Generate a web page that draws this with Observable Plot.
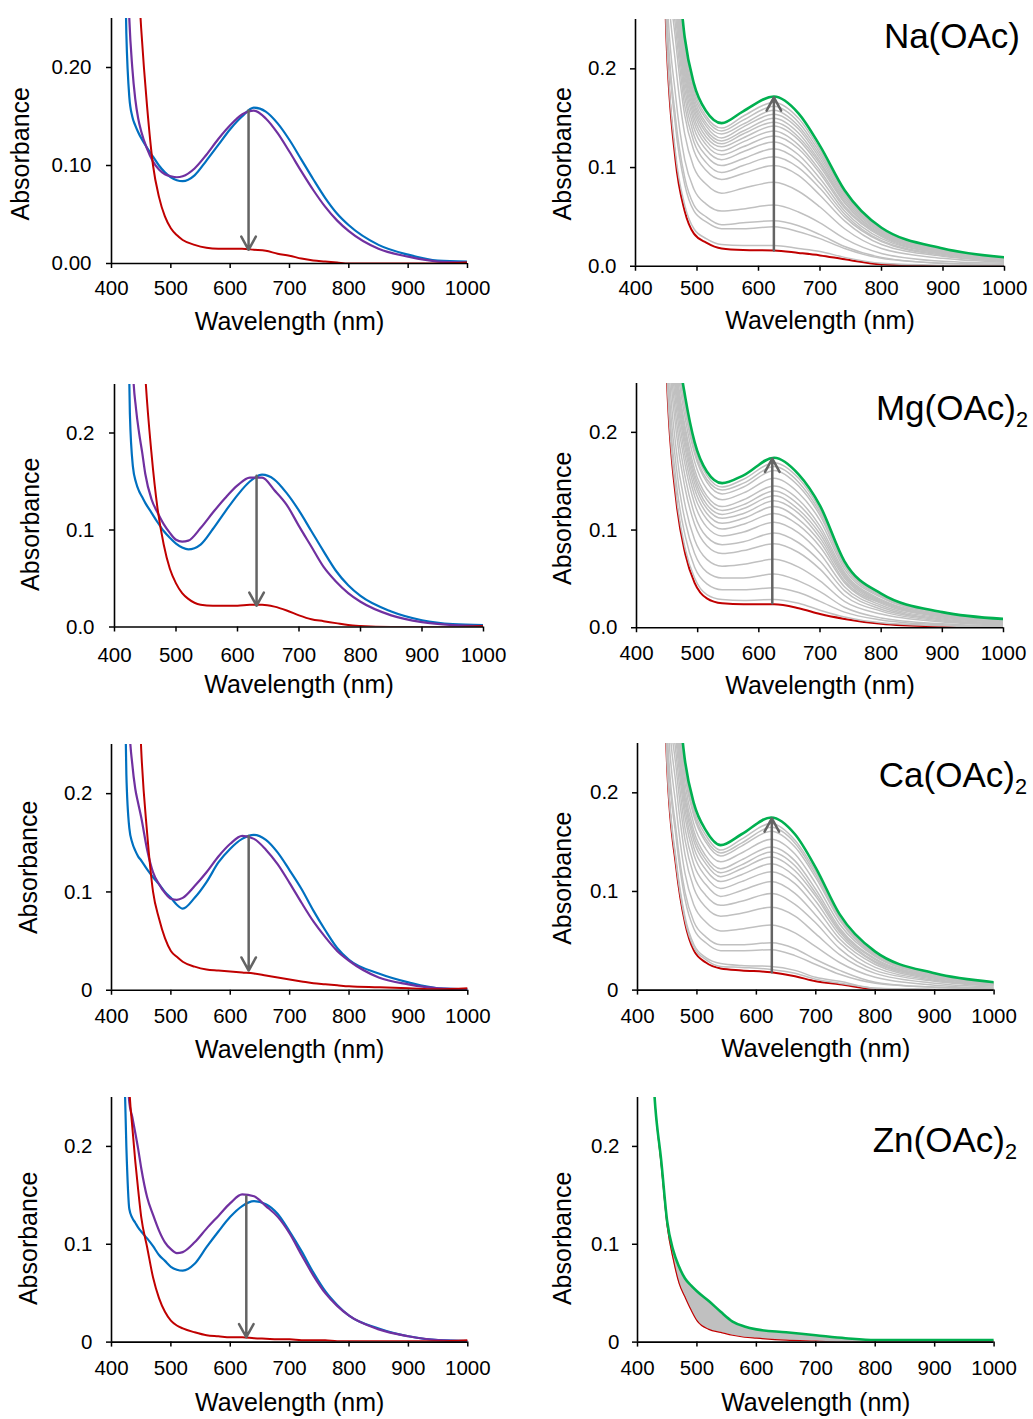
<!DOCTYPE html>
<html><head><meta charset="utf-8">
<script src="https://cdn.jsdelivr.net/npm/d3@7"></script>
<script src="https://cdn.jsdelivr.net/npm/@observablehq/plot@0.6"></script>
<style>
body{margin:0;background:#fff;}
#fig{position:relative;width:1033px;height:1419px;overflow:hidden;background:#fff;font-family:"Liberation Sans",Arial,sans-serif;}
.title{position:absolute;font-size:35px;line-height:35px;white-space:nowrap;color:#000;}
.title sub{font-size:0.62em;vertical-align:-0.32em;line-height:0;}
</style></head><body><div id="fig"></div>
<script>
// ---------- DATA ----------
const xTicks = [400, 500, 600, 700, 800, 900, 1000];
const yTicks = [0, 0.1, 0.2];

// left column: blue, purple, red spectra
const wlLeft = [420,425,430,435,440,445,450,460,470,480,490,500,510,520,540,560,580,600,620,640,660,680,700,720,740,760,780,800,850,900,950,1000];
const naBlue   = [0.40,0.235,0.17,0.150,0.141,0.134,0.128,0.118,0.109,0.100,0.093,0.088,0.085,0.084,0.090,0.105,0.121,0.137,0.150,0.159,0.155,0.143,0.126,0.106,0.086,0.067,0.051,0.039,0.019,0.009,0.003,0.002];
const naPurple = [0.5,0.35,0.25,0.2,0.168,0.148,0.135,0.117,0.104,0.096,0.091,0.089,0.088,0.089,0.097,0.111,0.127,0.141,0.152,0.156,0.148,0.133,0.114,0.094,0.075,0.058,0.044,0.033,0.015,0.007,0.002,0.001];
const naRed    = [1,0.9,0.6,0.45,0.35,0.29,0.24,0.16,0.10,0.068,0.048,0.036,0.029,0.024,0.019,0.016,0.015,0.015,0.015,0.014,0.013,0.010,0.008,0.005,0.003,0.002,0.001,0,0,0,0,0.001];
const mgBlue   = [0.40,0.22,0.165,0.149,0.140,0.134,0.128,0.118,0.108,0.099,0.092,0.086,0.082,0.080,0.085,0.101,0.119,0.136,0.150,0.157,0.152,0.138,0.120,0.099,0.078,0.058,0.043,0.032,0.016,0.007,0.003,0.002];
const mgPurple = [0.6,0.4,0.265,0.225,0.20,0.18,0.158,0.132,0.118,0.106,0.097,0.090,0.088,0.089,0.102,0.118,0.133,0.146,0.154,0.154,0.141,0.126,0.104,0.083,0.062,0.047,0.035,0.026,0.012,0.005,0.002,0.001];
const mgRed    = [1,0.9,0.7,0.5,0.4,0.32,0.26,0.18,0.122,0.085,0.060,0.045,0.035,0.029,0.023,0.022,0.022,0.022,0.023,0.023,0.021,0.017,0.012,0.008,0.006,0.004,0.002,0.001,0,0,0,0.001];
const caBlue   = [0.4,0.22,0.165,0.150,0.142,0.136,0.132,0.123,0.115,0.108,0.100,0.094,0.087,0.083,0.094,0.110,0.130,0.144,0.154,0.158,0.153,0.140,0.122,0.103,0.081,0.061,0.043,0.031,0.017,0.008,0.002,0.001];
const caPurple = [0.6,0.4,0.27,0.23,0.205,0.19,0.176,0.143,0.120,0.108,0.099,0.093,0.092,0.094,0.106,0.120,0.136,0.149,0.157,0.154,0.143,0.128,0.109,0.089,0.070,0.054,0.040,0.030,0.013,0.006,0.002,0.001];
const caRed    = [1,0.9,0.7,0.5,0.4,0.32,0.245,0.16,0.100,0.073,0.053,0.040,0.034,0.029,0.024,0.021,0.020,0.019,0.018,0.017,0.015,0.013,0.011,0.009,0.007,0.006,0.005,0.004,0.003,0.002,0.001,0.002];
const znBlue   = [0.32,0.2,0.136,0.127,0.122,0.117,0.113,0.106,0.098,0.089,0.083,0.077,0.074,0.073,0.080,0.097,0.113,0.128,0.139,0.144,0.141,0.131,0.113,0.093,0.071,0.052,0.038,0.027,0.014,0.006,0.002,0.001];
const znPurple = [0.35,0.29,0.245,0.23,0.214,0.197,0.178,0.148,0.130,0.114,0.102,0.095,0.091,0.092,0.102,0.116,0.129,0.142,0.151,0.149,0.139,0.128,0.111,0.089,0.068,0.050,0.037,0.027,0.013,0.006,0.002,0.001];
const znRed    = [0.5,0.35,0.26,0.22,0.185,0.155,0.128,0.097,0.066,0.045,0.031,0.022,0.017,0.014,0.010,0.007,0.006,0.005,0.005,0.004,0.0035,0.003,0.003,0.002,0.002,0.002,0.001,0.001,0.001,0.001,0.001,0.002];

// right column: titration series (red start, grey steps, green end)
const wlRight = [440,450,465,480,495,515,540,575,625,665,700,740,800,900,1000];
const naEndRed   = [0.45,0.235,0.108,0.056,0.033,0.024,0.018,0.0165,0.016,0.0135,0.011,0.007,0.002,0,0];
const naEndGreen = [0.6,0.42,0.33,0.232,0.185,0.157,0.145,0.157,0.172,0.155,0.122,0.077,0.039,0.018,0.009];
const naSteps = [
 [0.46,0.241,0.115,0.062,0.038,0.028,0.022,0.021,0.021,0.018,0.015,0.009,0.003,0.001,0.000],
 [0.48,0.264,0.142,0.083,0.056,0.045,0.038,0.038,0.040,0.035,0.028,0.018,0.008,0.003,0.001],
 [0.49,0.271,0.151,0.090,0.062,0.050,0.042,0.044,0.046,0.041,0.032,0.020,0.009,0.003,0.002],
 [0.50,0.290,0.174,0.108,0.078,0.063,0.056,0.058,0.062,0.055,0.044,0.028,0.013,0.005,0.003],
 [0.52,0.317,0.206,0.134,0.100,0.083,0.074,0.079,0.085,0.076,0.060,0.038,0.018,0.008,0.004],
 [0.54,0.337,0.230,0.153,0.117,0.097,0.088,0.094,0.102,0.092,0.072,0.046,0.022,0.010,0.005],
 [0.55,0.348,0.243,0.163,0.126,0.105,0.095,0.102,0.111,0.100,0.079,0.050,0.025,0.011,0.005],
 [0.56,0.357,0.255,0.172,0.133,0.112,0.102,0.109,0.119,0.107,0.084,0.053,0.026,0.012,0.006],
 [0.56,0.365,0.265,0.180,0.140,0.118,0.108,0.116,0.126,0.113,0.089,0.056,0.028,0.013,0.006],
 [0.57,0.373,0.273,0.187,0.146,0.123,0.113,0.121,0.132,0.119,0.094,0.059,0.030,0.013,0.007],
 [0.57,0.379,0.280,0.193,0.151,0.127,0.117,0.126,0.137,0.123,0.097,0.061,0.031,0.014,0.007],
 [0.58,0.385,0.287,0.198,0.156,0.131,0.121,0.130,0.142,0.128,0.101,0.064,0.032,0.015,0.007],
 [0.58,0.389,0.293,0.203,0.160,0.135,0.124,0.134,0.146,0.131,0.104,0.065,0.033,0.015,0.008],
 [0.59,0.394,0.299,0.207,0.164,0.138,0.127,0.137,0.150,0.135,0.106,0.067,0.034,0.015,0.008],
 [0.59,0.399,0.304,0.212,0.167,0.142,0.130,0.141,0.154,0.139,0.109,0.069,0.035,0.016,0.008],
 [0.60,0.403,0.310,0.216,0.171,0.145,0.134,0.144,0.158,0.142,0.112,0.071,0.036,0.016,0.008],
 [0.60,0.408,0.316,0.221,0.175,0.149,0.137,0.148,0.162,0.146,0.115,0.073,0.036,0.017,0.008],
 [0.60,0.413,0.322,0.225,0.179,0.152,0.140,0.152,0.166,0.150,0.118,0.074,0.037,0.017,0.009]
];
const mgEndRed   = [0.45,0.25,0.13,0.075,0.046,0.030,0.025,0.024,0.024,0.020,0.014,0.009,0.004,0.001,0];
const mgEndGreen = [0.6,0.42,0.30,0.235,0.19,0.160,0.148,0.156,0.174,0.157,0.125,0.068,0.035,0.016,0.009];
const mgSteps = [
 [0.46,0.256,0.136,0.080,0.051,0.034,0.029,0.028,0.029,0.025,0.018,0.011,0.005,0.002,0.000],
 [0.47,0.269,0.149,0.093,0.062,0.045,0.039,0.039,0.041,0.036,0.027,0.016,0.008,0.003,0.001],
 [0.49,0.285,0.165,0.108,0.076,0.057,0.051,0.051,0.055,0.048,0.037,0.021,0.010,0.004,0.002],
 [0.50,0.302,0.182,0.124,0.090,0.070,0.063,0.065,0.070,0.062,0.048,0.027,0.014,0.006,0.003],
 [0.52,0.320,0.200,0.141,0.106,0.084,0.076,0.079,0.086,0.077,0.060,0.033,0.017,0.007,0.004],
 [0.53,0.333,0.213,0.153,0.116,0.093,0.085,0.088,0.097,0.087,0.068,0.038,0.019,0.008,0.004],
 [0.54,0.345,0.225,0.165,0.127,0.103,0.094,0.098,0.108,0.097,0.076,0.042,0.021,0.009,0.005],
 [0.55,0.355,0.235,0.174,0.135,0.111,0.101,0.106,0.117,0.105,0.083,0.046,0.023,0.010,0.006],
 [0.56,0.363,0.243,0.182,0.142,0.117,0.107,0.112,0.124,0.111,0.088,0.048,0.025,0.011,0.006],
 [0.56,0.370,0.250,0.188,0.148,0.122,0.112,0.117,0.130,0.117,0.092,0.051,0.026,0.012,0.006],
 [0.57,0.376,0.256,0.193,0.153,0.126,0.116,0.122,0.135,0.121,0.096,0.053,0.027,0.012,0.007],
 [0.57,0.381,0.261,0.199,0.157,0.131,0.120,0.126,0.140,0.126,0.100,0.055,0.028,0.013,0.007],
 [0.58,0.387,0.267,0.204,0.162,0.135,0.124,0.131,0.145,0.131,0.104,0.057,0.029,0.013,0.007],
 [0.59,0.396,0.276,0.213,0.170,0.142,0.131,0.138,0.153,0.138,0.110,0.060,0.031,0.014,0.008],
 [0.59,0.405,0.285,0.221,0.178,0.149,0.137,0.144,0.161,0.145,0.115,0.063,0.032,0.015,0.008],
 [0.60,0.410,0.290,0.225,0.181,0.152,0.141,0.148,0.165,0.149,0.118,0.065,0.033,0.015,0.008],
 [0.60,0.414,0.294,0.230,0.185,0.156,0.144,0.152,0.169,0.153,0.121,0.066,0.034,0.016,0.009]
];
const caEndRed   = [0.42,0.225,0.125,0.068,0.040,0.028,0.022,0.020,0.018,0.014,0.009,0.006,0.001,0,0];
const caEndGreen = [0.6,0.42,0.32,0.232,0.189,0.162,0.147,0.158,0.175,0.158,0.124,0.077,0.039,0.017,0.008];
const caSteps = [
 [0.43,0.229,0.129,0.071,0.043,0.031,0.024,0.023,0.021,0.017,0.011,0.007,0.002,0.000,0.000],
 [0.44,0.232,0.132,0.074,0.046,0.033,0.027,0.025,0.024,0.020,0.013,0.009,0.002,0.001,0.000],
 [0.46,0.254,0.154,0.092,0.062,0.048,0.040,0.040,0.041,0.035,0.026,0.016,0.007,0.003,0.001],
 [0.47,0.262,0.162,0.099,0.069,0.054,0.046,0.046,0.048,0.042,0.031,0.020,0.008,0.003,0.002],
 [0.49,0.285,0.185,0.118,0.086,0.069,0.060,0.062,0.066,0.058,0.044,0.028,0.013,0.005,0.002],
 [0.51,0.307,0.207,0.137,0.103,0.084,0.075,0.078,0.084,0.075,0.057,0.036,0.017,0.007,0.003],
 [0.52,0.325,0.225,0.152,0.116,0.096,0.086,0.090,0.098,0.087,0.068,0.042,0.020,0.009,0.004],
 [0.53,0.339,0.239,0.164,0.127,0.107,0.095,0.101,0.110,0.098,0.076,0.048,0.023,0.010,0.005],
 [0.54,0.352,0.252,0.175,0.137,0.115,0.103,0.110,0.120,0.108,0.084,0.052,0.026,0.011,0.005],
 [0.55,0.362,0.262,0.183,0.144,0.122,0.110,0.117,0.128,0.115,0.090,0.056,0.028,0.012,0.006],
 [0.56,0.370,0.270,0.190,0.151,0.128,0.115,0.123,0.135,0.121,0.095,0.059,0.029,0.013,0.006],
 [0.57,0.377,0.277,0.195,0.156,0.132,0.119,0.127,0.140,0.126,0.098,0.061,0.031,0.013,0.006],
 [0.57,0.383,0.283,0.201,0.161,0.136,0.123,0.132,0.145,0.131,0.102,0.063,0.032,0.014,0.007],
 [0.58,0.393,0.293,0.209,0.168,0.143,0.130,0.139,0.153,0.138,0.108,0.067,0.034,0.015,0.007],
 [0.59,0.403,0.303,0.217,0.176,0.150,0.136,0.146,0.161,0.145,0.114,0.071,0.035,0.015,0.007],
 [0.60,0.408,0.308,0.222,0.179,0.153,0.139,0.149,0.165,0.149,0.117,0.073,0.036,0.016,0.008],
 [0.60,0.413,0.313,0.226,0.183,0.157,0.142,0.153,0.169,0.152,0.120,0.074,0.037,0.016,0.008]
];
const wlZn = [420,430,440,450,460,470,480,490,500,520,540,560,580,600,650,700,750,800,900,1000];
const znEndGreen = [0.34,0.24,0.185,0.123,0.094,0.077,0.065,0.058,0.052,0.042,0.031,0.021,0.016,0.013,0.010,0.007,0.004,0.002,0.002,0.002];
const znEndRed   = [0.34,0.24,0.18,0.118,0.085,0.060,0.046,0.033,0.022,0.013,0.010,0.007,0.005,0.004,0.002,0.001,0,0,0,0.001];

// arrows (wavelength, start absorbance, end absorbance) for panels 1..7
const arrowX    = [631, 625, 631, 622, 631, 626, 627];
const arrowFrom = [0.156, 0.016, 0.156, 0.025, 0.157, 0.018, 0.149];
const arrowTo   = [0.014, 0.171, 0.022, 0.173, 0.020, 0.174, 0.005];

const titleHTML = ["Na(OAc)", "Mg(OAc)<sub>2</sub>", "Ca(OAc)<sub>2</sub>", "Zn(OAc)<sub>2</sub>"];

// ---------- STYLE ----------
const C = {blue:"#0070C0", purple:"#7030A0", red:"#C00000", green:"#00B050", grey:"#C0C0C0", arrow:"#646464"};
const FONT = "'Liberation Sans', Arial, sans-serif";
const fmt2 = d => d.toFixed(2), fmt1 = d => d.toFixed(1), fmt0 = d => d === 0 ? "0" : d.toFixed(1);

// panel geometry (px)
const panels = [
 {x0:111,   x1:467,   y0:263,    pxu:980,   yfmt:fmt2, xPad:12, yPad:15, labDx:91, labY:0.112, xlabDy:58, kind:"left",  blue:naBlue, purple:naPurple, red:naRed, a:0},
 {x0:635,   x1:1004,  y0:265.7,  pxu:987,   yfmt:fmt1, xPad:9,  yPad:14, labDx:73, labY:0.114, xlabDy:55, kind:"right", steps:naSteps, red:naEndRed, green:naEndGreen, a:1, t:0, tTop:17.5, tRight:13},
 {x0:114.3, x1:483.3, y0:626,    pxu:970,   yfmt:fmt1, xPad:15, yPad:15, labDx:84, labY:0.106, xlabDy:58, kind:"left",  blue:mgBlue, purple:mgPurple, red:mgRed, a:2},
 {x0:636,   x1:1003,  y0:627,    pxu:977,   yfmt:fmt1, xPad:13, yPad:14, labDx:74, labY:0.112, xlabDy:58, kind:"right", steps:mgSteps, red:mgEndRed, green:mgEndGreen, a:3, t:1, tTop:390.4, tRight:5},
 {x0:111,   x1:467.3, y0:990,    pxu:983,   yfmt:fmt0, xPad:13, yPad:14, labDx:83, labY:0.125, xlabDy:60, kind:"left",  blue:caBlue, purple:caPurple, red:caRed, a:4},
 {x0:636.7, x1:993.3, y0:990,    pxu:986.5, yfmt:fmt0, xPad:13, yPad:14, labDx:75, labY:0.1135, xlabDy:59, kind:"right", steps:caSteps, red:caEndRed, green:caEndGreen, a:5, t:2, tTop:757, tRight:6},
 {x0:111,   x1:467.3, y0:1341.7, pxu:978.5, yfmt:fmt0, xPad:13, yPad:14, labDx:83, labY:0.106, xlabDy:61, kind:"left",  blue:znBlue, purple:znPurple, red:znRed, a:6},
 {x0:636.7, x1:993.3, y0:1341.7, pxu:978.5, yfmt:fmt0, xPad:13, yPad:13, labDx:75, labY:0.106, xlabDy:61, kind:"zn", t:3, tTop:1122, tRight:16}
];

const fig = document.getElementById("fig");
const series = (wl, vals) => vals.map((a, i) => ({w: wl[i], a}));

panels.forEach(p => {
  const mL = 105, mR = 40, mT = 10, mB = 80;
  const h = 0.25 * p.pxu, w = p.x1 - p.x0;
  const yTop = p.y0 - h;
  const lineOpt = (stroke, sw) => ({x: "w", y: "a", stroke, strokeWidth: sw, curve: "monotone-x", clip: true});
  const marks = [];
  if (p.kind === "left") {
    marks.push(Plot.line(series(wlLeft, p.blue), lineOpt(C.blue, 2.2)));
    marks.push(Plot.line(series(wlLeft, p.purple), lineOpt(C.purple, 2.2)));
    marks.push(Plot.line(series(wlLeft, p.red), lineOpt(C.red, 2)));
  } else if (p.kind === "right") {
    const greyRows = p.steps.flatMap((s, k) => s.map((a, i) => ({w: wlRight[i], a, k})));
    marks.push(Plot.line(series(wlRight, p.red), lineOpt(C.red, 2)));
    marks.push(Plot.line(greyRows, {...lineOpt(C.grey, 1.5), z: "k"}));
    marks.push(Plot.line(series(wlRight, p.green), lineOpt(C.green, 2.6)));
  } else {
    const band = wlZn.map((w, i) => ({w, lo: znEndRed[i], hi: znEndGreen[i]}));
    marks.push(Plot.areaY(band, {x: "w", y1: "lo", y2: "hi", fill: C.grey, curve: "monotone-x", clip: true}));
    marks.push(Plot.line(series(wlZn, znEndRed), lineOpt(C.red, 1.2)));
    marks.push(Plot.line(series(wlZn, znEndGreen), lineOpt(C.green, 2.6)));
  }
  if (p.a !== undefined) {
    marks.push(Plot.arrow([0], {x1: () => arrowX[p.a], x2: () => arrowX[p.a], y1: () => arrowFrom[p.a], y2: () => arrowTo[p.a],
      stroke: C.arrow, strokeWidth: 2.5, headLength: 9, headAngle: 58, clip: true}));
  }
  marks.push(Plot.ruleX([400], {stroke: "#000", strokeWidth: 1.6}));
  marks.push(Plot.ruleY([0], {stroke: "#000", strokeWidth: 1.6}));
  marks.push(Plot.axisX({ticks: xTicks, tickFormat: "d", tickSize: 5, tickPadding: p.xPad, fontSize: 20.5, label: null, strokeWidth: 1.5}));
  marks.push(Plot.axisY({ticks: yTicks, tickFormat: p.yfmt, tickSize: 5, tickPadding: p.yPad, fontSize: 20.5, label: null, strokeWidth: 1.5}));
  marks.push(Plot.text(["Absorbance"], {text: d => d, y: [p.labY], frameAnchor: "left", dx: -p.labDx, rotate: -90, textAnchor: "middle", lineAnchor: "middle", fontSize: 25}));
  marks.push(Plot.text(["Wavelength (nm)"], {text: d => d, frameAnchor: "bottom", dy: p.xlabDy, textAnchor: "middle", lineAnchor: "middle", fontSize: 25}));

  const svg = Plot.plot({
    width: w + mL + mR, height: h + mT + mB,
    marginLeft: mL, marginRight: mR, marginTop: mT, marginBottom: mB,
    x: {domain: [400, 1000], axis: null},
    y: {domain: [0, 0.25], axis: null},
    style: {fontFamily: FONT, color: "#000", background: "transparent", overflow: "visible"},
    marks
  });
  svg.style.position = "absolute";
  svg.style.left = (p.x0 - mL) + "px";
  svg.style.top = (yTop - mT) + "px";
  fig.appendChild(svg);

  if (p.t !== undefined) {
    const d = document.createElement("div");
    d.className = "title";
    d.innerHTML = titleHTML[p.t];
    d.style.top = p.tTop + "px";
    d.style.right = p.tRight + "px";
    fig.appendChild(d);
  }
});
</script></body></html>
